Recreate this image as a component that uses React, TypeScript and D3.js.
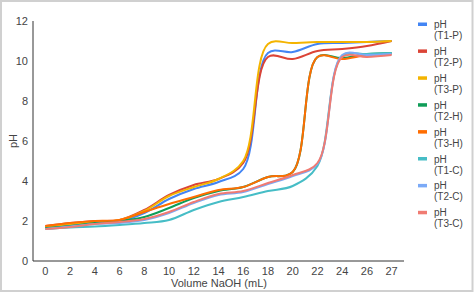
import React from 'react'
import * as d3 from 'd3'

const volumes = ['0', '2', '4', '6', '8', '10', '12', '14', '16', '18', '20', '22', '24', '26', '27']
const yTicks = [0, 2, 4, 6, 8, 10, 12]

const t1P = [1.7, 1.8, 1.95, 2.0, 2.4, 3.1, 3.6, 3.95, 4.6, 10.4, 10.45, 10.85, 10.9, 10.95, 11.0]
const t2P = [1.75, 1.9, 2.0, 2.05, 2.55, 3.3, 3.8, 4.1, 4.9, 10.2, 10.1, 10.5, 10.6, 10.75, 11.0]
const t3P = [1.7, 1.85, 1.95, 2.05, 2.5, 3.25, 3.7, 4.1, 5.0, 10.85, 10.9, 10.95, 10.95, 10.95, 11.0]
const t2H = [1.65, 1.75, 1.9, 2.0, 2.2, 2.65, 3.15, 3.5, 3.7, 4.2, 4.45, 10.2, 10.15, 10.35, 10.4]
const t3H = [1.75, 1.9, 2.0, 2.05, 2.45, 2.85, 3.2, 3.55, 3.7, 4.2, 4.45, 10.2, 10.1, 10.3, 10.35]
const t1C = [1.6, 1.68, 1.72, 1.8, 1.9, 2.05, 2.55, 2.95, 3.2, 3.5, 3.75, 4.75, 10.25, 10.35, 10.4]
const t2C = [1.6, 1.72, 1.85, 1.9, 2.05, 2.4, 2.9, 3.3, 3.45, 3.85, 4.25, 4.85, 10.3, 10.3, 10.35]
const t3C = [1.6, 1.7, 1.85, 1.95, 2.1, 2.45, 2.95, 3.35, 3.5, 3.9, 4.3, 4.9, 10.2, 10.2, 10.3]

const seriesNames = ['pH (T1-P)', 'pH (T2-P)', 'pH (T3-P)', 'pH (T2-H)', 'pH (T3-H)', 'pH (T1-C)', 'pH (T2-C)', 'pH (T3-C)']
const seriesValues = [t1P, t2P, t3P, t2H, t3H, t1C, t2C, t3C]
const colors = ['#4285F4', '#DB4437', '#F4B400', '#0F9D58', '#FF6D01', '#46BDC6', '#7BAAF7', '#F07B72']

const width = 474
const height = 293
const plot = { left: 33, right: 404, top: 21, bottom: 261 }
const font = 'Arial, "Liberation Sans", sans-serif'

const x = d3.scalePoint<string>().domain(volumes).range([plot.left, plot.right]).padding(0.5)
const y = d3.scaleLinear().domain([0, 12]).range([plot.bottom, plot.top])

const line = d3
  .line<number>()
  .x((d, i) => x(volumes[i]) as number)
  .y(d => y(d))
  .curve(d3.curveCatmullRom.alpha(0.5))

function Legend() {
  return (
    <g fontFamily={font} fontSize={10} fill="#444">
      {seriesNames.map((name, i) => {
        const cy = 24 + i * 26.9
        const [first, second] = name.split(' ')
        return (
          <g key={name}>
            <rect x={418} y={cy - 1.5} width={9} height={3.5} fill={colors[i]} />
            <text x={434} y={cy + 4}>{first}</text>
            <text x={434} y={cy + 15}>{second}</text>
          </g>
        )
      })}
    </g>
  )
}

export default function App() {
  return (
    <svg
      width={width}
      height={height}
      style={{ position: 'absolute', left: 0, top: 0, display: 'block', background: '#fff' }}
    >
      <rect x={1} y={1} width={471.5} height={290} fill="#fff" stroke="#d0d0d0" strokeWidth={2} />

      {/* axes */}
      <line x1={plot.left} x2={plot.left} y1={plot.top} y2={plot.bottom} stroke="#333" strokeWidth={1} />
      <line x1={plot.left} x2={plot.right} y1={plot.bottom} y2={plot.bottom} stroke="#333" strokeWidth={1} />

      <g fontFamily={font} fontSize={11} fill="#444">
        {yTicks.map(t => (
          <text key={t} x={28} y={y(t) + 4} textAnchor="end">
            {t}
          </text>
        ))}
        {volumes.map(v => (
          <text key={v} x={x(v)} y={275} textAnchor="middle">
            {v}
          </text>
        ))}
        <text x={219} y={287} textAnchor="middle">
          Volume NaOH (mL)
        </text>
        <text transform="translate(17, 141) rotate(-90)" textAnchor="middle">
          pH
        </text>
      </g>

      {seriesValues.map((vals, i) => (
        <path key={seriesNames[i]} d={line(vals) ?? ''} fill="none" stroke={colors[i]} strokeWidth={2} />
      ))}

      <Legend />
    </svg>
  )
}
